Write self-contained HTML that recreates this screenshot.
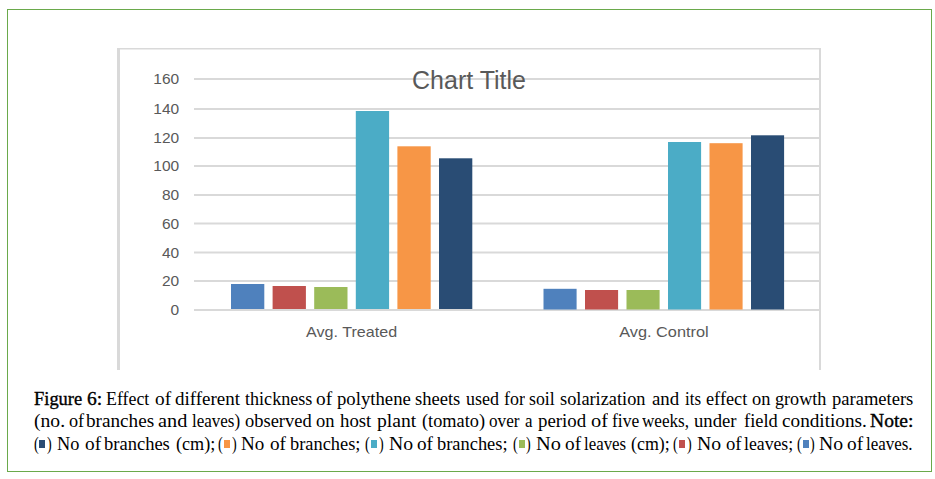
<!DOCTYPE html>
<html><head><meta charset="utf-8">
<style>
html,body{margin:0;padding:0;background:#fff;width:935px;height:479px;overflow:hidden;}
#frame{position:absolute;left:7px;top:9px;width:923px;height:461px;border:1px solid #6aa94b;}
svg{position:absolute;left:0;top:0;}
.w{position:absolute;white-space:nowrap;font-family:"Liberation Serif",serif;font-size:18px;line-height:20px;transform-origin:0 0;color:#000;}
.b{font-weight:normal;-webkit-text-stroke:0.35px #000;}
.sq{position:absolute;top:440px;width:6px;height:7.5px;}
</style></head>
<body>
<div id="frame"></div>
<svg width="935" height="479" viewBox="0 0 935 479">
  <!-- chart box -->
  <rect x="117" y="48" width="3" height="322" fill="#d9d9d9"/>
  <rect x="117" y="48" width="704" height="1.5" fill="#d9d9d9"/>
  <rect x="819" y="48" width="2" height="322" fill="#d9d9d9"/>
  <!-- gridlines -->
  <g fill="#d9d9d9">
    <rect x="194" y="78" width="625" height="2"/>
    <rect x="194" y="108" width="625" height="2"/>
    <rect x="194" y="137" width="625" height="2"/>
    <rect x="194" y="165" width="625" height="2"/>
    <rect x="194" y="194" width="625" height="2"/>
    <rect x="194" y="222.5" width="625" height="2"/>
    <rect x="194" y="251.5" width="625" height="2"/>
    <rect x="194" y="280" width="625" height="2"/>
    <rect x="194" y="309" width="625" height="2"/>
  </g>
  <!-- y labels -->
  <g font-family="Liberation Sans, sans-serif" font-size="15.5" fill="#595959" text-anchor="end">
    <text x="179.2" y="84.15">160</text>
    <text x="179.2" y="114.15">140</text>
    <text x="179.2" y="143.15">120</text>
    <text x="179.2" y="171.15">100</text>
    <text x="179.2" y="200.15">80</text>
    <text x="179.2" y="228.65">60</text>
    <text x="179.2" y="257.65">40</text>
    <text x="179.2" y="286.15">20</text>
    <text x="179.2" y="315.15">0</text>
  </g>
  <!-- title -->
  <text x="469" y="89.2" font-family="Liberation Sans, sans-serif" font-size="25" fill="#595959" text-anchor="middle">Chart Title</text>
  <!-- bars group 1 -->
  <rect x="231" y="284" width="33.3" height="25" fill="#4f81bd"/>
  <rect x="272.6" y="286" width="33.3" height="23" fill="#c0504d"/>
  <rect x="314.2" y="287" width="33.3" height="22" fill="#9bbb59"/>
  <rect x="355.8" y="111" width="33.3" height="198" fill="#4bacc6"/>
  <rect x="397.4" y="146.3" width="33.3" height="162.7" fill="#f79646"/>
  <rect x="439" y="158.3" width="33.3" height="150.7" fill="#294c74"/>
  <!-- bars group 2 -->
  <rect x="543.50" y="288.8" width="33.1" height="20.70" fill="#4f81bd"/>
  <rect x="585.00" y="290" width="33.1" height="19.50" fill="#c0504d"/>
  <rect x="626.50" y="290" width="33.1" height="19.50" fill="#9bbb59"/>
  <rect x="668.00" y="142" width="33.1" height="167.50" fill="#4bacc6"/>
  <rect x="709.50" y="143.2" width="33.1" height="166.30" fill="#f79646"/>
  <rect x="751.00" y="135.3" width="33.1" height="174.20" fill="#294c74"/>
  <!-- x labels -->
  <g font-family="Liberation Sans, sans-serif" font-size="15" fill="#595959" text-anchor="middle">
    <text x="351.6" y="336.9" textLength="91" lengthAdjust="spacingAndGlyphs">Avg. Treated</text>
    <text x="663.9" y="337.0" textLength="89.5" lengthAdjust="spacingAndGlyphs">Avg. Control</text>
  </g>
</svg>
<div id="caption">
<span class="w b" style="left:33.50px;top:389px;transform:scaleX(1.025)">Figure</span>
<span class="w b" style="left:86.50px;top:389px;transform:scaleX(1.085)">6:</span>
<span class="w" style="left:106.20px;top:389px;transform:scaleX(0.992)">Effect</span>
<span class="w" style="left:155.10px;top:389px;transform:scaleX(1.073)">of</span>
<span class="w" style="left:174.80px;top:389px;transform:scaleX(1.055)">different</span>
<span class="w" style="left:244.60px;top:389px;transform:scaleX(1.006)">thickness</span>
<span class="w" style="left:316.40px;top:389px;transform:scaleX(1.073)">of</span>
<span class="w" style="left:337.30px;top:389px;transform:scaleX(1.040)">polythene</span>
<span class="w" style="left:415.10px;top:389px;transform:scaleX(1.030)">sheets</span>
<span class="w" style="left:466.00px;top:389px;transform:scaleX(0.997)">used</span>
<span class="w" style="left:503.70px;top:389px;transform:scaleX(0.996)">for</span>
<span class="w" style="left:529.40px;top:389px;transform:scaleX(0.988)">soil</span>
<span class="w" style="left:559.90px;top:389px;transform:scaleX(1.018)">solarization</span>
<span class="w" style="left:651.80px;top:389px;transform:scaleX(1.047)">and</span>
<span class="w" style="left:684.70px;top:389px;transform:scaleX(0.941)">its</span>
<span class="w" style="left:705.50px;top:389px;transform:scaleX(1.016)">effect</span>
<span class="w" style="left:751.70px;top:389px;transform:scaleX(1.022)">on</span>
<span class="w" style="left:774.90px;top:389px;transform:scaleX(1.008)">growth</span>
<span class="w" style="left:831.90px;top:389px;transform:scaleX(1.030)">parameters</span>
<span class="w" style="left:34.00px;top:411px;transform:scaleX(1.090)">(no.</span>
<span class="w" style="left:68.50px;top:411px;transform:scaleX(1.013)">of</span>
<span class="w" style="left:86.20px;top:411px;transform:scaleX(1.065)">branches</span>
<span class="w" style="left:157.50px;top:411px;transform:scaleX(1.127)">and</span>
<span class="w" style="left:191.70px;top:411px;transform:scaleX(0.944)">leaves)</span>
<span class="w" style="left:244.60px;top:411px;transform:scaleX(1.025)">observed</span>
<span class="w" style="left:316.40px;top:411px;transform:scaleX(1.028)">on</span>
<span class="w" style="left:339.70px;top:411px;transform:scaleX(1.043)">host</span>
<span class="w" style="left:376.60px;top:411px;transform:scaleX(1.092)">plant</span>
<span class="w" style="left:421.50px;top:411px;transform:scaleX(1.016)">(tomato)</span>
<span class="w" style="left:489.30px;top:411px;transform:scaleX(0.953)">over</span>
<span class="w" style="left:525.30px;top:411px;transform:scaleX(0.938)">a</span>
<span class="w" style="left:537.60px;top:411px;transform:scaleX(1.048)">period</span>
<span class="w" style="left:590.60px;top:411px;transform:scaleX(1.133)">of</span>
<span class="w" style="left:611.70px;top:411px;transform:scaleX(0.972)">five</span>
<span class="w" style="left:642.10px;top:411px;transform:scaleX(0.951)">weeks,</span>
<span class="w" style="left:694.30px;top:411px;transform:scaleX(1.037)">under</span>
<span class="w" style="left:744.40px;top:411px;transform:scaleX(1.022)">field</span>
<span class="w" style="left:782.10px;top:411px;transform:scaleX(1.067)">conditions.</span>
<span class="w b" style="left:870.40px;top:411px;transform:scaleX(1.087)">Note:</span>
<span class="w" style="left:33.50px;top:434px;transform:scaleX(0.792)">(</span>
<span class="w" style="left:47.20px;top:434px;transform:scaleX(0.783)">)</span>
<i class="sq" style="left:39.40px;background:#2a4b73"></i>
<span class="w" style="left:56.50px;top:434px;transform:scaleX(1.018)">No</span>
<span class="w" style="left:84.50px;top:434px;transform:scaleX(1.073)">of</span>
<span class="w" style="left:103.80px;top:434px;transform:scaleX(1.029)">branches</span>
<span class="w" style="left:175.80px;top:434px;transform:scaleX(1.008)">(cm);</span>
<span class="w" style="left:218.10px;top:434px;transform:scaleX(0.792)">(</span>
<span class="w" style="left:231.80px;top:434px;transform:scaleX(0.783)">)</span>
<i class="sq" style="left:224.00px;background:#f79646"></i>
<span class="w" style="left:241.40px;top:434px;transform:scaleX(1.059)">No</span>
<span class="w" style="left:269.50px;top:434px;transform:scaleX(1.067)">of</span>
<span class="w" style="left:289.50px;top:434px;transform:scaleX(1.021)">branches;</span>
<span class="w" style="left:365.40px;top:434px;transform:scaleX(0.792)">(</span>
<span class="w" style="left:379.10px;top:434px;transform:scaleX(0.783)">)</span>
<i class="sq" style="left:371.30px;background:#4bacc6"></i>
<span class="w" style="left:388.60px;top:434px;transform:scaleX(1.096)">No</span>
<span class="w" style="left:416.70px;top:434px;transform:scaleX(1.067)">of</span>
<span class="w" style="left:436.70px;top:434px;transform:scaleX(1.023)">branches;</span>
<span class="w" style="left:512.60px;top:434px;transform:scaleX(0.792)">(</span>
<span class="w" style="left:526.30px;top:434px;transform:scaleX(0.783)">)</span>
<i class="sq" style="left:518.50px;background:#9bbb59"></i>
<span class="w" style="left:535.80px;top:434px;transform:scaleX(1.132)">No</span>
<span class="w" style="left:564.70px;top:434px;transform:scaleX(1.073)">of</span>
<span class="w" style="left:584.00px;top:434px;transform:scaleX(0.936)">leaves</span>
<span class="w" style="left:630.90px;top:434px;transform:scaleX(0.993)">(cm);</span>
<span class="w" style="left:673.40px;top:434px;transform:scaleX(0.792)">(</span>
<span class="w" style="left:687.10px;top:434px;transform:scaleX(0.783)">)</span>
<i class="sq" style="left:679.30px;background:#c0504d"></i>
<span class="w" style="left:696.70px;top:434px;transform:scaleX(1.096)">No</span>
<span class="w" style="left:725.60px;top:434px;transform:scaleX(1.040)">of</span>
<span class="w" style="left:744.40px;top:434px;transform:scaleX(0.984)">leaves;</span>
<span class="w" style="left:796.60px;top:434px;transform:scaleX(0.792)">(</span>
<span class="w" style="left:810.30px;top:434px;transform:scaleX(0.783)">)</span>
<i class="sq" style="left:802.50px;background:#4f81bd"></i>
<span class="w" style="left:819.00px;top:434px;transform:scaleX(1.096)">No</span>
<span class="w" style="left:847.10px;top:434px;transform:scaleX(1.073)">of</span>
<span class="w" style="left:866.40px;top:434px;transform:scaleX(0.941)">leaves.</span>
</div>
</body></html>
